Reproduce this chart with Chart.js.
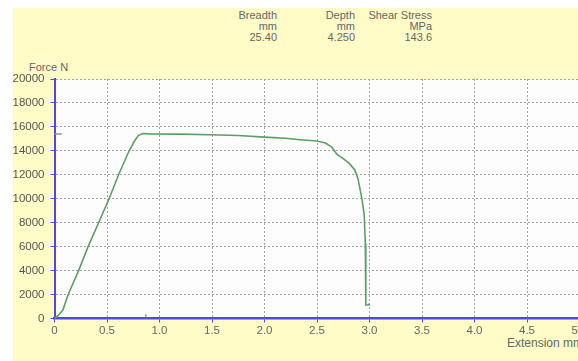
<!DOCTYPE html>
<html>
<head>
<meta charset="utf-8">
<script src="https://cdn.jsdelivr.net/npm/chart.js@4.4.1/dist/chart.umd.min.js"></script>
<style>
  html, body { margin: 0; padding: 0; width: 578px; height: 361px; overflow: hidden; background: #ffffff; }
  #bg { position: absolute; left: 13px; top: 8px; width: 565px; height: 353px; background: #FFFCC8; }
  #wrap { position: absolute; left: 0; top: 0; width: 600px; height: 361px; }
  .lbl { position: absolute; font-family: "Liberation Sans", Arial, sans-serif; font-size: 11px; color: #666; white-space: nowrap; }
  .col { position: absolute; top: 10px; font-family: "Liberation Sans", Arial, sans-serif; font-size: 11px; line-height: 11px; color: #666; text-align: right; }
</style>
</head>
<body>
<div id="bg"></div>
<div class="col" style="left:197px;width:80px;">Breadth<br>mm<br>25.40</div>
<div class="col" style="left:275px;width:80px;">Depth<br>mm<br>4.250</div>
<div class="col" style="left:332px;width:100px;">Shear Stress<br>MPa<br>143.6</div>
<div class="lbl" style="left:29px;top:61px;">Force N</div>
<div class="lbl" style="left:507px;top:336px;font-size:12px;">Extension mm</div>
<div id="wrap"><canvas id="c" width="600" height="361"></canvas></div>
<script>
// ---- data ----
const extension = [0, 0.04, 0.08, 0.13, 0.23, 0.32, 0.42, 0.52, 0.61, 0.70, 0.76, 0.80, 0.84, 0.9, 1.2, 1.48, 1.75, 2.0, 2.2, 2.34, 2.5, 2.58, 2.64, 2.69, 2.75, 2.81, 2.86, 2.89, 2.91, 2.93, 2.95, 2.96, 2.965, 2.99, 2.995];
const force = [0, 300, 700, 2000, 4000, 6000, 8000, 10000, 12000, 13800, 14800, 15300, 15450, 15420, 15400, 15350, 15280, 15150, 15050, 14930, 14820, 14650, 14320, 13710, 13350, 12930, 12400, 11680, 10800, 9880, 8620, 6270, 1125, 1125, 1250];
const peakMarkerExt = [0, 0.07];
const peakMarkerForce = [15400, 15400];
const smallTickExt = [0.87, 0.87];
const smallTickForce = [0, 350];
const xTickValues = [0, 0.5, 1.0, 1.5, 2.0, 2.5, 3.0, 3.5, 4.0, 4.5, 5.0];
const xTickLabels = ['0', '0.5', '1.0', '1.5', '2.0', '2.5', '3.0', '3.5', '4.0', '4.5', '5.0'];
const yTickValues = [0, 2000, 4000, 6000, 8000, 10000, 12000, 14000, 16000, 18000, 20000];

const toPts = (xs, ys) => xs.map((x, i) => ({ x: x, y: ys[i] }));

const plotBg = {
  id: 'plotBg',
  beforeDraw(chart) {
    const { ctx, chartArea: a } = chart;
    ctx.save();
    ctx.fillStyle = '#FDFDFD';
    ctx.fillRect(a.left, a.top, a.right - a.left, a.bottom - a.top);
    ctx.restore();
  }
};

const blue = '#4B4BE0';
const gridCol = '#A0A0A0';
const fontFam = '"Liberation Sans", Arial, sans-serif';

new Chart(document.getElementById('c'), {
  type: 'scatter',
  data: {
    datasets: [
      { data: toPts(extension, force), showLine: true, borderColor: '#5E9E64', borderWidth: 1.6, pointRadius: 0, tension: 0 },
      { data: toPts(peakMarkerExt, peakMarkerForce), showLine: true, borderColor: '#7FA07F', borderWidth: 1.5, pointRadius: 0 },
      { data: toPts(smallTickExt, smallTickForce), showLine: true, borderColor: '#778877', borderWidth: 1.2, pointRadius: 0 }
    ]
  },
  options: {
    responsive: false,
    animation: false,
    events: [],
    layout: { padding: { left: 0, right: 20.5, top: 79, bottom: 0 } },
    plugins: { legend: { display: false }, tooltip: { enabled: false } },
    scales: {
      x: {
        type: 'linear', min: 0, max: 5,
        afterFit(s) { s.height = 42.5; },
        afterBuildTicks(s) { s.ticks = xTickValues.map(v => ({ value: v })); },
        ticks: {
          padding: 1, maxRotation: 0, autoSkip: false,
          color: '#666', font: { family: fontFam, size: 11.5 },
          callback: (v) => { const i = xTickValues.indexOf(v); return i >= 0 ? xTickLabels[i] : ''; }
        },
        grid: { color: gridCol, lineWidth: 1, tickColor: blue, tickLength: 4, drawTicks: true },
        border: { display: true, color: blue, width: 2.5, dash: [2, 2] }
      },
      y: {
        type: 'linear', min: 0, max: 20000,
        afterFit(s) { s.width = 54.5; },
        afterBuildTicks(s) { s.ticks = yTickValues.map(v => ({ value: v })); },
        ticks: {
          padding: 6, autoSkip: false,
          color: '#555', font: { family: fontFam, size: 11.5 },
          callback: (v) => String(v)
        },
        grid: { color: gridCol, lineWidth: 1, tickColor: blue, tickLength: 4, drawTicks: true },
        border: { display: true, color: blue, width: 2, dash: [2, 2] }
      }
    }
  },
  plugins: [plotBg]
});
</script>
</body>
</html>
